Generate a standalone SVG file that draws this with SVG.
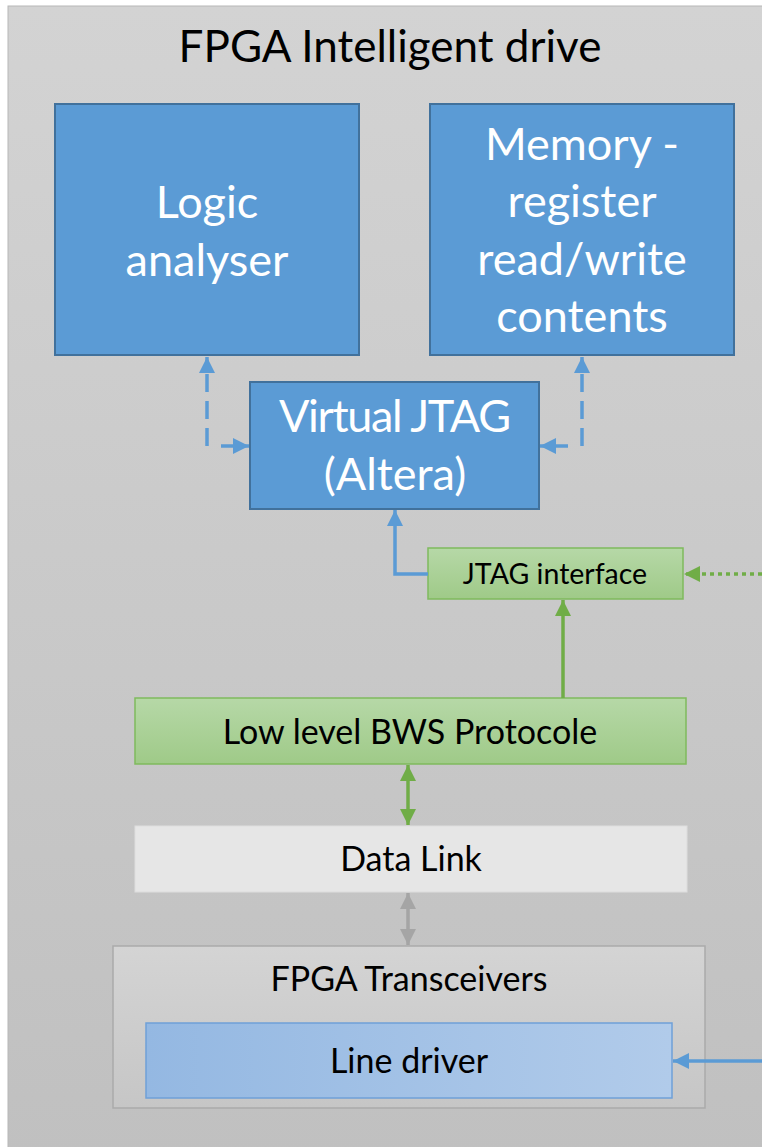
<svg xmlns="http://www.w3.org/2000/svg" width="762" height="1147" viewBox="0 0 762 1147">
  <style>
    .lbl { font-family: Lato, "Open Sans", sans-serif; text-anchor: middle; }
    .big { font-size: 45px; fill: #ffffff; }
    .sml { font-size: 34px; fill: #000000; }
    .blueBox { fill: #5b9bd5; stroke: #41719c; stroke-width: 2; }
    .greenBox { fill: url(#gGreen); stroke: #7fba5d; stroke-width: 1.5; }
    .conn { fill: none; stroke-width: 3.5; }
  </style>
  <defs>
    <linearGradient id="gBg" x1="0" y1="0" x2="0" y2="1">
      <stop offset="0" stop-color="#d3d3d3"/>
      <stop offset="1" stop-color="#c0c0c0"/>
    </linearGradient>
    <linearGradient id="gGreen" x1="0" y1="0" x2="0" y2="1">
      <stop offset="0" stop-color="#b6d8a7"/>
      <stop offset="1" stop-color="#9fca88"/>
    </linearGradient>
    <linearGradient id="gTrans" x1="0" y1="0" x2="0" y2="1">
      <stop offset="0" stop-color="#d4d4d4"/>
      <stop offset="1" stop-color="#c6c6c6"/>
    </linearGradient>
    <linearGradient id="gLine" x1="0" y1="0" x2="1" y2="0">
      <stop offset="0" stop-color="#94b8e2"/>
      <stop offset="1" stop-color="#b1cbea"/>
    </linearGradient>
    <marker id="aBlue" viewBox="0 0 10 10" refX="10" refY="5" markerWidth="16" markerHeight="16" markerUnits="userSpaceOnUse" orient="auto-start-reverse">
      <path d="M0,0 L10,5 L0,10 z" fill="#5b9bd5"/>
    </marker>
    <marker id="aGreen" viewBox="0 0 10 10" refX="10" refY="5" markerWidth="16" markerHeight="16" markerUnits="userSpaceOnUse" orient="auto-start-reverse">
      <path d="M0,0 L10,5 L0,10 z" fill="#70ad47"/>
    </marker>
    <marker id="aGray" viewBox="0 0 10 10" refX="10" refY="5" markerWidth="16" markerHeight="16" markerUnits="userSpaceOnUse" orient="auto-start-reverse">
      <path d="M0,0 L10,5 L0,10 z" fill="#a5a5a5"/>
    </marker>
  </defs>

  <!-- page and outer container -->
  <rect x="0" y="0" width="762" height="1147" fill="#ffffff"/>
  <rect id="container" x="8" y="6" width="760" height="1150" fill="url(#gBg)" stroke="#b8b8b8" stroke-width="1"/>
  <text class="lbl" x="390" y="62" style="font-size:44px;fill:#000">FPGA Intelligent drive</text>

  <g id="logic-analyser">
    <rect class="blueBox" x="55" y="104" width="304" height="251"/>
    <text class="lbl big" x="207" y="218">Logic</text>
    <text class="lbl big" x="207" y="276">analyser</text>
  </g>

  <g id="memory">
    <rect class="blueBox" x="430" y="104" width="304" height="251"/>
    <text class="lbl big" x="582" y="160">Memory -</text>
    <text class="lbl big" x="582" y="217">register</text>
    <text class="lbl big" x="582" y="275">read/write</text>
    <text class="lbl big" x="582" y="332">contents</text>
  </g>

  <g id="virtual-jtag">
    <rect class="blueBox" x="250" y="382" width="289" height="127"/>
    <text class="lbl big" x="395" y="432" textLength="232">Virtual JTAG</text>
    <text class="lbl big" x="395" y="490">(Altera)</text>
  </g>

  <g id="jtag-interface">
    <rect class="greenBox" x="428" y="548" width="255" height="51"/>
    <text class="lbl" x="555" y="584" style="font-size:28.5px;fill:#000">JTAG interface</text>
  </g>

  <g id="bws-protocol">
    <rect class="greenBox" x="135" y="698" width="551" height="66"/>
    <text class="lbl sml" x="410" y="744">Low level BWS Protocole</text>
  </g>

  <g id="data-link">
    <rect x="135" y="826" width="552" height="66" fill="#e6e6e6" stroke="#dddddd" stroke-width="1"/>
    <text class="lbl sml" x="411" y="871">Data Link</text>
  </g>

  <g id="fpga-transceivers">
    <rect x="113" y="946" width="592" height="162" fill="url(#gTrans)" stroke="#aaaaaa" stroke-width="1.5"/>
    <text class="lbl sml" x="409" y="991">FPGA Transceivers</text>
  </g>

  <g id="line-driver">
    <rect x="146" y="1023" width="526" height="75" fill="url(#gLine)" stroke="#6fa0d8" stroke-width="1.5"/>
    <text class="lbl sml" x="409" y="1073">Line driver</text>
  </g>

  <!-- connectors, drawn on top of the boxes -->
  <g id="connectors">
    <path class="conn" d="M207,446 V357" stroke="#5b9bd5" stroke-dasharray="18,9" marker-end="url(#aBlue)"/>
    <path class="conn" d="M221,446 H249" stroke="#5b9bd5" marker-end="url(#aBlue)"/>
    <path class="conn" d="M582,446 V357" stroke="#5b9bd5" stroke-dasharray="18,9" marker-end="url(#aBlue)"/>
    <path class="conn" d="M568,446 H540" stroke="#5b9bd5" marker-end="url(#aBlue)"/>
    <path class="conn" d="M428,574 H395 V510" stroke="#5b9bd5" marker-end="url(#aBlue)"/>
    <path class="conn" d="M762,574 H684" stroke="#70ad47" stroke-width="4" stroke-dasharray="4,4" marker-end="url(#aGreen)"/>
    <path class="conn" d="M563,698 V600" stroke="#70ad47" marker-end="url(#aGreen)"/>
    <path class="conn" d="M408,765 V825" stroke="#70ad47" marker-start="url(#aGreen)" marker-end="url(#aGreen)"/>
    <path class="conn" d="M408,893 V945" stroke="#a5a5a5" marker-start="url(#aGray)" marker-end="url(#aGray)"/>
    <path class="conn" d="M762,1061 H673" stroke="#5b9bd5" marker-end="url(#aBlue)"/>
  </g>
</svg>
